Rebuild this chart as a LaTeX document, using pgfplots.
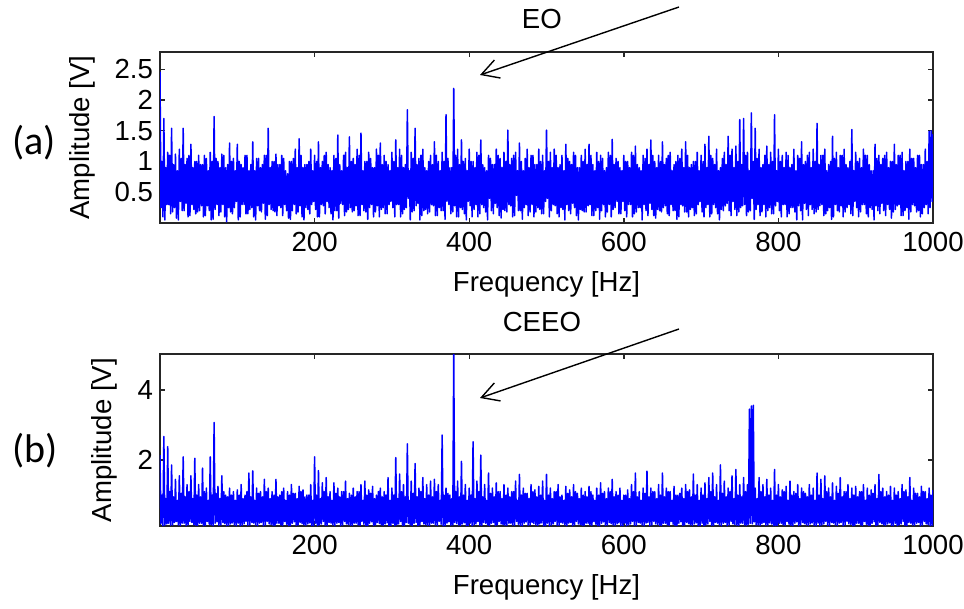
\documentclass[border=0pt]{standalone}
\usepackage{pgfplots}
\pgfplotsset{compat=1.18}
\usepackage{fontspec}
\setmainfont{Liberation Sans}
\newfontfamily\calibri{Carlito}
\usetikzlibrary{arrows.meta}
\begin{document}
\begin{tikzpicture}
\path[use as bounding box] (0,0) rectangle (482pt,-304.5pt);
\pgfplotsset{
  myax/.style={
    scale only axis, width=386.5pt,
    xmin=0, xmax=1000,
    xtick={200,400,600,800,1000},
    scaled ticks=false,
    /pgf/number format/1000 sep={},
    /pgf/number format/assume math mode=true,
    tick align=inside, tick pos=both,
    major tick length=2.5pt,
    axis line style={line width=0.8pt, black!85},
    every tick/.style={black!85, line width=0.7pt},
    tick label style={font=\fontsize{13.8}{16}\selectfont, text=black},
    xticklabel style={yshift=-1.2pt},
    label style={font=\fontsize{13.8}{16}\selectfont},
    xlabel={Frequency [Hz]},
    ylabel={Amplitude [V]},
    x label style={at={(axis description cs:0.5,0)}, anchor=center, yshift=-30.5pt},
    title style={font=\fontsize{13.8}{16}\selectfont, anchor=center},
  },
  spec/.style={blue, line width=0.75pt, line join=round}
}
\begin{axis}[myax, height=85.5pt, at={(80pt,-111.5pt)}, anchor=south west,
  ymin=0, ymax=2.78, ytick={0.5,1,1.5,2,2.5},
  y label style={at={(axis description cs:-0.101,0.5)}, anchor=center},
  title={EO}, title style={at={(axis description cs:0.494,1.123)}}]
\addplot[spec] table[row sep=\\, header=false, x expr=\coordindex*1.25, y index=0] {
2.46\\.25\\1.0\\.1\\1.70\\.05\\.9\\.3\\1.15\\.3\\1.1\\.15\\1.54\\.18\\.95\\.25\\1.12\\.08\\.85\\.05\\1.2\\.35\\1.05\\.2\\1.54\\.2\\.95\\.32\\1.05\\.1\\1.1\\.12\\1.28\\.3\\.9\\.22\\1.0\\.15\\1.0\\.18\\
1.1\\.2\\.95\\.28\\.95\\.1\\1.1\\.12\\1.05\\.28\\.85\\.2\\1.15\\.05\\1.0\\.06\\1.73\\.22\\1.05\\.3\\1.0\\.12\\.9\\.18\\1.12\\.3\\1.1\\.1\\.9\\.02\\.95\\.25\\1.30\\.18\\1.0\\.15\\1.05\\.25\\.85\\.35\\
1.28\\.05\\1.0\\.1\\.95\\.3\\.9\\.3\\1.1\\.15\\1.1\\.15\\.85\\.22\\.95\\.25\\1.32\\.1\\.85\\.05\\1.05\\.28\\1.05\\.2\\.9\\.18\\.95\\.32\\1.1\\.06\\1.1\\.12\\1.54\\.3\\.9\\.22\\1.0\\.2\\1.0\\.18\\
1.12\\.12\\.95\\.28\\.95\\.25\\1.1\\.12\\1.05\\.3\\.85\\.2\\.8\\.08\\1.0\\.06\\1.0\\.2\\1.05\\.3\\1.2\\.15\\.9\\.18\\1.37\\.28\\1.1\\.1\\.9\\.05\\.95\\.25\\.95\\.22\\1.0\\.15\\1.2\\.3\\.85\\.35\\
1.1\\.22\\1.0\\.1\\1.32\\.1\\.9\\.3\\1.0\\.28\\1.1\\.15\\1.15\\.35\\.95\\.25\\.9\\.15\\.85\\.05\\1.1\\.2\\1.05\\.2\\1.43\\.08\\.95\\.32\\.85\\.3\\1.1\\.12\\1.15\\.18\\.9\\.22\\1.40\\.25\\1.0\\.18\\
1.05\\.2\\.95\\.28\\1.2\\.12\\1.1\\.12\\1.46\\.3\\.85\\.2\\1.0\\.18\\1.0\\.06\\1.15\\.25\\1.05\\.3\\.9\\.1\\.9\\.18\\1.2\\.28\\1.1\\.1\\1.30\\.22\\.95\\.25\\1.1\\.15\\1.0\\.15\\.95\\.3\\.85\\.35\\
1.15\\.25\\1.0\\.1\\1.35\\.3\\.9\\.3\\1.2\\.1\\1.1\\.15\\.9\\.22\\.95\\.25\\1.84\\.4\\.85\\.05\\1.15\\.18\\1.05\\.2\\1.54\\.28\\.95\\.32\\1.05\\.05\\1.1\\.12\\1.2\\.2\\.9\\.22\\.85\\.15\\1.0\\.18\\
1.1\\.3\\.95\\.28\\1.32\\.12\\1.1\\.12\\1.0\\.25\\.85\\.2\\1.15\\.2\\1.0\\.06\\1.76\\.35\\1.05\\.3\\.9\\.15\\.9\\.18\\2.19\\.28\\1.1\\.1\\1.2\\.1\\.95\\.25\\1.35\\.22\\1.0\\.15\\1.05\\.05\\.85\\.35\\
1.2\\.28\\1.0\\.1\\1.0\\.22\\.9\\.3\\1.15\\.1\\1.1\\.15\\1.35\\.3\\.95\\.25\\.9\\.18\\.85\\.05\\1.1\\.4\\1.05\\.2\\.95\\.15\\.95\\.32\\1.2\\.25\\1.1\\.12\\1.05\\.08\\.9\\.22\\1.15\\.2\\1.0\\.18\\
1.51\\.3\\.95\\.28\\1.05\\.1\\1.1\\.12\\1.15\\.45\\.85\\.2\\1.30\\.2\\1.0\\.06\\.85\\.25\\1.05\\.3\\1.2\\.12\\.9\\.18\\1.1\\.3\\1.1\\.1\\.95\\.18\\.95\\.25\\1.2\\.22\\1.0\\.15\\1.1\\.15\\.85\\.35\\
1.51\\.4\\1.0\\.1\\1.15\\.2\\.9\\.3\\1.2\\.28\\1.1\\.15\\.9\\.1\\.95\\.25\\1.1\\.22\\.85\\.05\\1.28\\.3\\1.05\\.2\\1.0\\.15\\.95\\.32\\1.15\\.25\\1.1\\.12\\.9\\.05\\.9\\.22\\1.1\\.2\\1.0\\.18\\
1.2\\.18\\.95\\.28\\1.28\\.3\\1.1\\.12\\.95\\.12\\.85\\.2\\1.15\\.25\\1.0\\.06\\1.1\\.2\\1.05\\.3\\.85\\.1\\.9\\.18\\1.15\\.3\\1.1\\.1\\1.36\\.22\\.95\\.25\\1.05\\.35\\1.0\\.15\\.9\\.15\\.85\\.35\\
1.1\\.2\\1.0\\.1\\1.0\\.3\\.9\\.3\\1.15\\.1\\1.1\\.15\\1.25\\.18\\.95\\.25\\.9\\.25\\.85\\.05\\1.1\\.3\\1.05\\.2\\1.2\\.12\\.95\\.32\\1.35\\.22\\1.1\\.12\\1.0\\.08\\.9\\.22\\1.1\\.2\\1.0\\.18\\
1.32\\.25\\.95\\.28\\1.05\\.15\\1.1\\.12\\1.15\\.3\\.85\\.2\\.95\\.2\\1.0\\.06\\1.1\\.1\\1.05\\.3\\1.2\\.28\\.9\\.18\\1.32\\.18\\1.1\\.1\\.9\\.22\\.95\\.25\\1.0\\.12\\1.0\\.15\\1.15\\.3\\.85\\.35\\
1.1\\.18\\1.0\\.1\\1.28\\.25\\.9\\.3\\1.41\\.1\\1.1\\.15\\1.05\\.3\\.95\\.25\\1.2\\.15\\.85\\.05\\.9\\.22\\1.05\\.2\\1.15\\.28\\.95\\.32\\1.41\\.2\\1.1\\.12\\1.2\\.35\\.9\\.22\\1.25\\.12\\1.0\\.18\\
1.68\\.25\\.95\\.28\\1.70\\.3\\1.1\\.12\\1.15\\.18\\.85\\.2\\1.79\\.4\\1.0\\.06\\1.54\\.22\\1.05\\.3\\1.2\\.12\\.9\\.18\\.95\\.3\\1.1\\.1\\1.25\\.2\\.95\\.25\\1.15\\.15\\1.0\\.15\\1.76\\.28\\.85\\.35\\
1.2\\.2\\1.0\\.1\\1.1\\.3\\.9\\.3\\1.15\\.1\\1.1\\.15\\.9\\.25\\.95\\.25\\1.2\\.18\\.85\\.05\\1.1\\.28\\1.05\\.2\\1.32\\.05\\.95\\.32\\1.0\\.22\\1.1\\.12\\1.15\\.3\\.9\\.22\\1.2\\.15\\1.0\\.18\\
1.62\\.22\\.95\\.28\\1.1\\.3\\1.1\\.12\\1.2\\.15\\.85\\.2\\.95\\.25\\1.0\\.06\\1.41\\.1\\1.05\\.3\\1.15\\.2\\.9\\.18\\1.1\\.28\\1.1\\.1\\1.2\\.18\\.95\\.25\\.9\\.3\\1.0\\.15\\1.52\\.12\\.85\\.35\\
1.15\\.25\\1.0\\.1\\1.05\\.18\\.9\\.3\\1.2\\.3\\1.1\\.15\\1.1\\.1\\.95\\.25\\.85\\.22\\.85\\.05\\1.28\\.28\\1.05\\.2\\1.1\\.15\\.95\\.32\\1.05\\.2\\1.1\\.12\\1.15\\.3\\.9\\.22\\1.0\\.08\\1.0\\.18\\
1.28\\.22\\.95\\.28\\1.1\\.3\\1.1\\.12\\1.15\\.12\\.85\\.2\\1.0\\.25\\1.0\\.06\\1.2\\.18\\1.05\\.3\\1.05\\.28\\.9\\.18\\1.1\\.2\\1.1\\.1\\.95\\.15\\.95\\.25\\1.2\\.3\\1.0\\.15\\1.49\\.25\\1.5\\.35\\
1.45\\
};
\end{axis}
\begin{axis}[myax, height=86pt, at={(80pt,-263pt)}, anchor=south west,
  ymin=0.12, ymax=5.02, ytick={2,4},
  y label style={at={(axis description cs:-0.0724,0.5)}, anchor=center},
  title={CEEO}, title style={at={(axis description cs:0.494,1.116)}}]
\addplot[spec] table[row sep=\\, header=false, x expr=\coordindex*1.25, y index=0] {
2.14\\.18\\1.0\\.13\\2.67\\.14\\.9\\.18\\2.38\\.2\\1.1\\.14\\1.86\\.15\\.95\\.22\\1.45\\.25\\.85\\.15\\1.55\\.13\\1.05\\.2\\2.09\\.2\\.95\\.13\\1.3\\.15\\1.1\\.25\\1.55\\.22\\.9\\.16\\2.05\\.14\\1.0\\.14\\
1.3\\.2\\.95\\.2\\1.77\\.13\\1.1\\.14\\1.2\\.25\\.85\\.17\\2.09\\.15\\1.0\\.13\\3.07\\.2\\1.05\\.24\\1.25\\.14\\.9\\.15\\1.55\\.22\\1.1\\.19\\1.0\\.13\\.95\\.14\\1.2\\.18\\1.0\\.21\\1.1\\.15\\.85\\.13\\
1.15\\.2\\1.0\\.13\\1.3\\.14\\.9\\.18\\1.0\\.25\\1.1\\.14\\1.63\\.15\\.95\\.22\\1.69\\.2\\.85\\.15\\1.2\\.13\\1.05\\.2\\1.1\\.22\\.95\\.13\\1.45\\.15\\1.1\\.25\\1.2\\.18\\.9\\.16\\1.1\\.14\\1.0\\.14\\
1.45\\.2\\.95\\.2\\1.0\\.15\\1.1\\.14\\1.2\\.25\\.85\\.17\\1.1\\.13\\1.0\\.13\\1.3\\.2\\1.05\\.24\\1.05\\.14\\.9\\.15\\1.25\\.22\\1.1\\.19\\1.15\\.15\\.95\\.14\\1.0\\.18\\1.0\\.21\\1.3\\.13\\.85\\.13\\
2.09\\.2\\1.0\\.13\\1.7\\.15\\.9\\.18\\1.35\\.25\\1.1\\.14\\1.5\\.14\\.95\\.22\\1.1\\.2\\.85\\.15\\1.35\\.13\\1.05\\.2\\1.2\\.22\\.95\\.13\\1.1\\.15\\1.1\\.25\\1.4\\.18\\.9\\.16\\1.05\\.14\\1.0\\.14\\
1.2\\.2\\.95\\.2\\1.1\\.15\\1.1\\.14\\1.3\\.25\\.85\\.17\\1.4\\.13\\1.0\\.13\\1.15\\.2\\1.05\\.24\\1.25\\.14\\.9\\.15\\1.0\\.22\\1.1\\.19\\1.2\\.15\\.95\\.14\\1.1\\.18\\1.0\\.21\\1.5\\.13\\.85\\.13\\
1.2\\.2\\1.0\\.13\\2.07\\.15\\.9\\.18\\1.6\\.25\\1.1\\.14\\1.3\\.14\\.95\\.22\\2.46\\.2\\.85\\.15\\1.4\\.13\\1.05\\.2\\1.90\\.22\\.95\\.13\\1.2\\.15\\1.1\\.25\\1.5\\.18\\.9\\.16\\1.3\\.14\\1.0\\.14\\
1.4\\.2\\.95\\.2\\1.45\\.15\\1.1\\.14\\1.3\\.25\\.85\\.17\\2.71\\.13\\1.0\\.13\\1.2\\.2\\1.05\\.24\\1.0\\.14\\.9\\.15\\5.05\\.22\\1.1\\.19\\1.4\\.15\\.95\\.14\\1.96\\.18\\1.0\\.21\\1.3\\.13\\.85\\.13\\
1.2\\.2\\1.0\\.13\\2.52\\.15\\.9\\.18\\1.4\\.25\\1.1\\.14\\2.14\\.14\\.95\\.22\\1.3\\.2\\.85\\.15\\1.63\\.13\\1.05\\.2\\1.2\\.22\\.95\\.13\\1.35\\.15\\1.1\\.25\\1.1\\.18\\.9\\.16\\1.3\\.14\\1.0\\.14\\
1.2\\.2\\.95\\.2\\1.1\\.15\\1.1\\.14\\1.4\\.25\\.85\\.17\\1.59\\.13\\1.0\\.13\\1.2\\.2\\1.05\\.24\\1.05\\.14\\.9\\.15\\1.3\\.22\\1.1\\.19\\1.15\\.15\\.95\\.14\\1.25\\.18\\1.0\\.21\\1.4\\.13\\.85\\.13\\
1.59\\.2\\1.0\\.13\\1.2\\.15\\.9\\.18\\1.1\\.25\\1.1\\.14\\1.3\\.14\\.95\\.22\\1.0\\.2\\.85\\.15\\1.25\\.13\\1.05\\.2\\1.15\\.22\\.95\\.13\\1.3\\.15\\1.1\\.25\\1.05\\.18\\.9\\.16\\1.2\\.14\\1.0\\.14\\
1.1\\.2\\.95\\.2\\1.25\\.15\\1.1\\.14\\1.0\\.25\\.85\\.17\\1.2\\.13\\1.0\\.13\\1.35\\.2\\1.05\\.24\\1.1\\.14\\.9\\.15\\1.2\\.22\\1.1\\.19\\1.45\\.15\\.95\\.14\\1.1\\.18\\1.0\\.21\\1.2\\.13\\.85\\.13\\
1.0\\.2\\1.0\\.13\\1.15\\.15\\.9\\.18\\1.3\\.25\\1.1\\.14\\1.63\\.14\\.95\\.22\\1.1\\.2\\.85\\.15\\1.2\\.13\\1.05\\.2\\1.68\\.22\\.95\\.13\\1.2\\.15\\1.1\\.25\\1.1\\.18\\.9\\.16\\1.3\\.14\\1.0\\.14\\
1.63\\.2\\.95\\.2\\1.2\\.15\\1.1\\.14\\1.1\\.25\\.85\\.17\\1.25\\.13\\1.0\\.13\\1.0\\.2\\1.05\\.24\\1.2\\.14\\.9\\.15\\1.3\\.22\\1.1\\.19\\1.15\\.15\\.95\\.14\\1.6\\.18\\1.0\\.21\\1.3\\.13\\.85\\.13\\
1.2\\.2\\1.0\\.13\\1.35\\.15\\.9\\.18\\1.5\\.25\\1.1\\.14\\1.63\\.14\\.95\\.22\\1.3\\.2\\.85\\.15\\1.86\\.13\\1.05\\.2\\1.4\\.22\\.95\\.13\\1.2\\.15\\1.1\\.25\\1.55\\.18\\.9\\.16\\1.73\\.14\\1.0\\.14\\
1.3\\.2\\.95\\.2\\1.5\\.15\\1.1\\.14\\1.3\\.17\\3.45\\.2\\3.54\\.18\\3.56\\.24\\1.2\\.15\\.9\\.15\\1.5\\.14\\1.1\\.19\\1.3\\.22\\.95\\.14\\1.45\\.15\\1.0\\.21\\1.2\\.18\\.85\\.13\\1.73\\.13\\1.0\\.14\\
1.3\\.2\\.95\\.2\\1.15\\.15\\1.1\\.14\\1.25\\.25\\.85\\.17\\1.4\\.14\\1.0\\.13\\1.1\\.2\\1.05\\.24\\1.3\\.13\\.9\\.15\\1.2\\.22\\1.1\\.19\\1.05\\.15\\.95\\.14\\1.3\\.18\\1.0\\.21\\1.2\\.14\\.85\\.13\\
1.63\\.2\\1.0\\.13\\1.45\\.15\\.9\\.18\\1.55\\.25\\1.1\\.14\\1.2\\.13\\.95\\.22\\1.35\\.2\\.85\\.15\\1.25\\.14\\1.05\\.2\\1.5\\.22\\.95\\.13\\1.1\\.15\\1.1\\.25\\1.3\\.18\\.9\\.16\\1.2\\.13\\1.0\\.14\\
1.25\\.2\\.95\\.2\\1.1\\.15\\1.1\\.14\\1.3\\.25\\.85\\.17\\1.2\\.14\\1.0\\.13\\1.15\\.2\\1.05\\.24\\1.3\\.13\\.9\\.15\\1.59\\.22\\1.1\\.19\\1.2\\.15\\.95\\.14\\1.1\\.18\\1.0\\.21\\1.25\\.14\\.85\\.13\\
1.2\\.2\\1.0\\.13\\1.1\\.15\\.9\\.18\\1.3\\.25\\1.1\\.14\\1.15\\.13\\.95\\.22\\1.5\\.2\\.85\\.15\\1.2\\.14\\1.05\\.2\\1.05\\.22\\.95\\.13\\1.25\\.15\\1.1\\.25\\1.1\\.18\\.9\\.16\\1.2\\.13\\1.0\\.14\\
1.15\\
};
\end{axis}
\draw[line width=0.7pt, -{Straight Barb[length=8.5pt,width=9.5pt]}] (339.5pt,-3.5pt) -- (240pt,-37.5pt);
\draw[line width=0.7pt, -{Straight Barb[length=8.5pt,width=9.5pt]}] (339.5pt,-164.5pt) -- (240pt,-199pt);
\node[font=\calibri\fontsize{20}{24}\selectfont] at (17pt,-71.5pt) {(a)};
\node[font=\calibri\fontsize{20}{24}\selectfont] at (17.5pt,-225.5pt) {(b)};
\end{tikzpicture}
\end{document}
